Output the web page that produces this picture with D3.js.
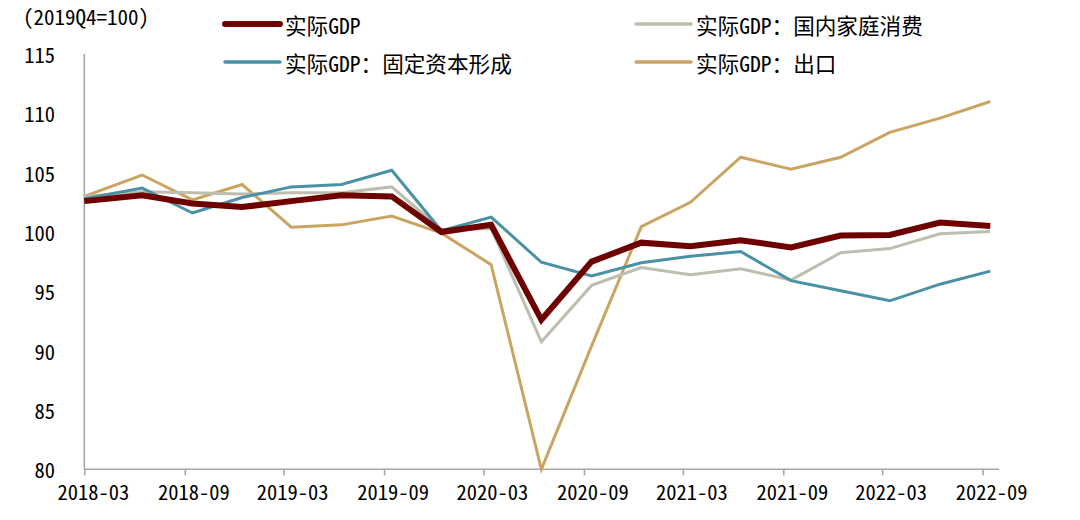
<!DOCTYPE html>
<html>
<head>
<meta charset="utf-8">
<script src="https://cdn.jsdelivr.net/npm/d3@7"></script>
<style>
  html, body { margin: 0; padding: 0; background: #fff; }
  svg text { font-family: "Noto Sans CJK SC", "Liberation Sans", sans-serif; font-feature-settings: "hwid" 1; fill: #000; }
</style>
</head>
<body>
<svg id="chart" width="1080" height="520"></svg>
<script>
// ---- data ----
const quarters = ["2018-03","2018-06","2018-09","2018-12","2019-03","2019-06","2019-09","2019-12","2020-03","2020-06","2020-09","2020-12","2021-03","2021-06","2021-09","2021-12","2022-03","2022-06","2022-09"];
const pointDates = ["2018-03-01","2018-06-15","2018-09-15","2018-12-15","2019-03-15","2019-06-15","2019-09-15","2019-12-15","2020-03-15","2020-06-15","2020-09-15","2020-12-15","2021-03-15","2021-06-15","2021-09-15","2021-12-15","2022-03-15","2022-06-15","2022-09-15"];
const realGDP      = [102.6,103.1,102.4,102.1,102.6,103.1,103.0,100.0,100.6,92.6,97.5,99.1,98.8,99.3,98.7,99.7,99.75,100.8,100.5];
const consumption  = [103.0,103.4,103.3,103.2,103.3,103.3,103.8,100.2,100.3,90.75,95.5,97.0,96.4,96.9,95.95,98.25,98.6,99.85,100.05];
const investment   = [102.8,103.7,101.6,102.9,103.8,104.0,105.2,100.1,101.25,97.45,96.3,97.4,97.95,98.35,95.9,95.05,94.2,95.6,96.7];
const exports_     = [103.0,104.8,102.7,104.0,100.4,100.6,101.35,99.9,97.25,80.0,90.4,100.45,102.5,106.3,105.3,106.3,108.4,109.6,111.0];
const yTicks = [80,85,90,95,100,105,110,115];
const xTickLabels = ["2018-03","2018-09","2019-03","2019-09","2020-03","2020-09","2021-03","2021-09","2022-03","2022-09"];
const unitLabel = "(2019Q4=100)";

const series = [
  { name: "实际GDP", values: realGDP, color: "#6E0000", width: 6 },
  { name: "实际GDP：国内家庭消费", values: consumption, color: "#BDBDB0", width: 3 },
  { name: "实际GDP：固定资本形成", values: investment, color: "#4A91A5", width: 3 },
  { name: "实际GDP：出口", values: exports_, color: "#C9A561", width: 3 }
];
// draw order (bottom to top)
const drawOrder = [3, 1, 2, 0];

// ---- scales ----
const svg = d3.select("#chart");
const parse = d3.timeParse("%Y-%m-%d");
const parseMonth = d3.timeParse("%Y-%m");
const x = d3.scaleTime()
  .domain([parse("2018-03-01"), parse("2022-10-01")])
  .range([84.3, 999]);
const y = d3.scaleLinear().domain([80, 115]).range([469.3, 54]);

// ---- axes ----
const axisColor = "#A6A6A6";
svg.append("line")
  .attr("x1", x.range()[0]).attr("x2", x.range()[0])
  .attr("y1", y(115)).attr("y2", y(80))
  .attr("stroke", axisColor).attr("stroke-width", 1.6);

svg.append("g").selectAll("text").data(yTicks).join("text")
  .attr("x", 55).attr("y", d => y(d))
  .attr("text-anchor", "end").attr("dominant-baseline", "central")
  .attr("font-size", 20.5)
  .text(d => d);

const xAxis = d3.axisBottom(x)
  .tickValues(xTickLabels.map(parseMonth))
  .tickSize(6)
  .tickFormat(d3.timeFormat("%Y-%m"));
const gx = svg.append("g").attr("transform", `translate(0,${y(80)})`).call(xAxis);
gx.select(".domain").attr("stroke", axisColor).attr("stroke-width", 1.6)
  .attr("d", `M${x.range()[0]},0H${x.range()[1]}`);
gx.selectAll(".tick line").attr("stroke", axisColor).attr("stroke-width", 1.6);
gx.selectAll(".tick text")
  .attr("font-size", 20.5)
  .attr("font-family", null)
  .attr("dy", null).attr("y", 31)
  .attr("dx", 8.5)
  .attr("fill", "#000");

svg.append("text").attr("x", 23).attr("y", 16)
  .attr("dominant-baseline", "central").attr("font-size", 21)
  .text(unitLabel);

// ---- lines ----
const dates = pointDates.map(parse);
const line = d3.line().x((d, i) => x(dates[i])).y(d => y(d));
svg.append("g").selectAll("path").data(drawOrder.map(i => series[i])).join("path")
  .attr("d", s => line(s.values))
  .attr("fill", "none")
  .attr("stroke", s => s.color)
  .attr("stroke-width", s => s.width)
  .attr("stroke-linejoin", "miter")
  .attr("stroke-linecap", "butt");

// ---- legend ----
const legendPos = [
  { x: 225, y: 24 },
  { x: 636, y: 24 },
  { x: 225, y: 62 },
  { x: 636, y: 62 }
];
const lg = svg.append("g").selectAll("g").data(series).join("g")
  .attr("transform", (s, i) => `translate(${legendPos[i].x},${legendPos[i].y})`);
lg.append("line").attr("x1", 0).attr("x2", 55).attr("y1", 0).attr("y2", 0)
  .attr("stroke", s => s.color).attr("stroke-width", s => s.width === 6 ? 6 : 3.5)
  .attr("stroke-linecap", "round");
lg.append("text").attr("x", 60).attr("y", 0)
  .attr("dominant-baseline", "central").attr("font-size", 21.6)
  .text(s => s.name);
</script>
</body>
</html>
